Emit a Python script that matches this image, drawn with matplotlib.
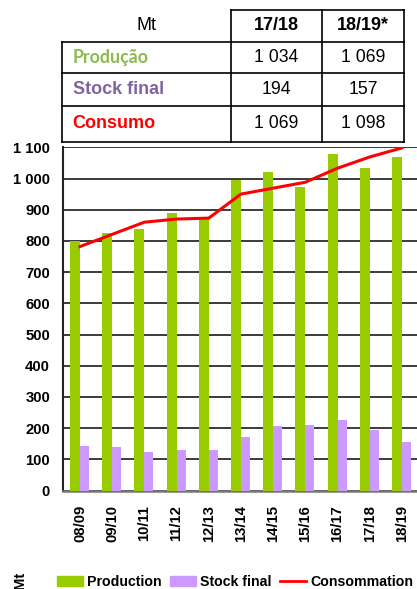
import matplotlib
matplotlib.use('Agg')
import matplotlib.pyplot as plt
from matplotlib.lines import Line2D
from matplotlib.patches import Patch
import numpy as np

# data
campaigns = ['08/09', '09/10', '10/11', '11/12', '12/13', '13/14',
             '14/15', '15/16', '16/17', '17/18', '18/19']
production = [800, 825, 838, 889, 871, 996, 1021, 973, 1079, 1034, 1069]
stock_final = [143, 139, 123, 130, 130, 171, 207, 210, 226, 194, 157]
consumption = [782, 821, 860, 870, 873, 950, 969, 988, 1033, 1069, 1098]
y_ticks = [0, 100, 200, 300, 400, 500, 600, 700, 800, 900, 1000, 1100]

table_cols = ['17/18', '18/19*']
table_rows = ['Produção', 'Stock final', 'Consumo']
table_vals = [['1 034', '1 069'], ['194', '157'], ['1 069', '1 098']]

GREEN = '#99cc00'
PURPLE = '#cc99ff'
RED = '#ff0000'
FS = 10.7

W, H = 417, 589
fig = plt.figure(figsize=(W / 100, H / 100), dpi=100)


def fx(x):
    return x / W


def fy(y):
    return 1 - y / H


ax = fig.add_axes([fx(63.3), fy(490.5), 1 - fx(63.3), fy(147.3) - fy(490.5)])

x = np.arange(len(campaigns))
# green bar left of the category centre, purple bar right of it
ax.bar(x - 0.31, production, width=0.31, align='edge', color=GREEN, zorder=3)
ax.bar(x, stock_final, width=0.28, align='edge', color=PURPLE, zorder=3)
ax.plot(x, consumption, color=RED, lw=2.2, zorder=4)

ax.set_xlim(-0.52, 10.47)
ax.set_ylim(0, 1100)
ax.set_yticks(y_ticks)
ax.set_yticklabels([f'{v:,}'.replace(',', ' ') for v in y_ticks],
                   fontsize=FS, fontweight='bold', family='Liberation Sans')
ax.set_xticks(x)
ax.set_xticklabels(campaigns, rotation=90, fontsize=FS, fontweight='bold',
                   family='Liberation Sans')
ax.tick_params(axis='y', length=0, pad=9.5)
ax.tick_params(axis='x', length=0, pad=10.5)
ax.yaxis.grid(True, color='#1a1a1a', lw=1.2, zorder=1)
ax.set_axisbelow(True)
ax.spines['top'].set_visible(False)
ax.spines['right'].set_visible(False)
ax.spines['left'].set_color('#222222')
ax.spines['left'].set_linewidth(1.5)
ax.spines['bottom'].set_color('#777777')
ax.spines['bottom'].set_linewidth(1.8)

# summary table above the chart
col_x = [62.3, 230.7, 321.7, 404.3]
row_y = [10, 41.7, 73.3, 106, 141.7]
line_kw = dict(color='black', lw=1.2, transform=fig.transFigure)
for y in row_y[1:]:
    fig.add_artist(Line2D([fx(col_x[0]), fx(col_x[-1])], [fy(y), fy(y)], **line_kw))
fig.add_artist(Line2D([fx(col_x[1]), fx(col_x[-1])], [fy(row_y[0]), fy(row_y[0])], **line_kw))
fig.add_artist(Line2D([fx(col_x[0]), fx(col_x[0])], [fy(row_y[1]), fy(row_y[-1])], **line_kw))
for cx in col_x[1:]:
    fig.add_artist(Line2D([fx(cx), fx(cx)], [fy(row_y[0]), fy(row_y[-1])], **line_kw))

fig.text(fx((col_x[0] + col_x[1]) / 2), fy((row_y[0] + row_y[1]) / 2), 'Mt',
         ha='center', va='center', fontsize=13, family='Liberation Sans')
for j, col in enumerate(table_cols):
    fig.text(fx((col_x[j + 1] + col_x[j + 2]) / 2), fy((row_y[0] + row_y[1]) / 2), col,
             ha='center', va='center', fontsize=13, fontweight='bold',
             family='Liberation Sans')

row_colors = ['#8db94f', '#8064a2', RED]
row_fonts = ['Lato', 'Liberation Sans', 'Liberation Sans']
for i, lab in enumerate(table_rows):
    yc = fy((row_y[i + 1] + row_y[i + 2]) / 2)
    fig.text(fx(72.7), yc, lab, ha='left', va='center', fontsize=13 if i else 12.8,
             fontweight='bold', color=row_colors[i], family=row_fonts[i])
    for j, val in enumerate(table_vals[i]):
        fig.text(fx((col_x[j + 1] + col_x[j + 2]) / 2), yc, val,
                 ha='center', va='center', fontsize=12.7, family='Liberation Sans')

# legend + unit
fig.text(fx(20), fy(580), 'Mt', rotation=90, ha='center', va='center',
         fontsize=FS, fontweight='bold', family='Liberation Sans')
handles = [Patch(color=GREEN, label='Production'),
           Patch(color=PURPLE, label='Stock final'),
           Line2D([], [], color=RED, lw=2, label='Consommation')]
fig.legend(handles=handles, loc='center left', bbox_to_anchor=(fx(57), fy(582)),
           ncol=3, frameon=False, borderpad=0, borderaxespad=0,
           handlelength=1.85, handletextpad=0.3, columnspacing=0.55,
           prop=dict(family='Liberation Sans', weight='bold', size=10.2))

fig.savefig('out.png', dpi=100)
